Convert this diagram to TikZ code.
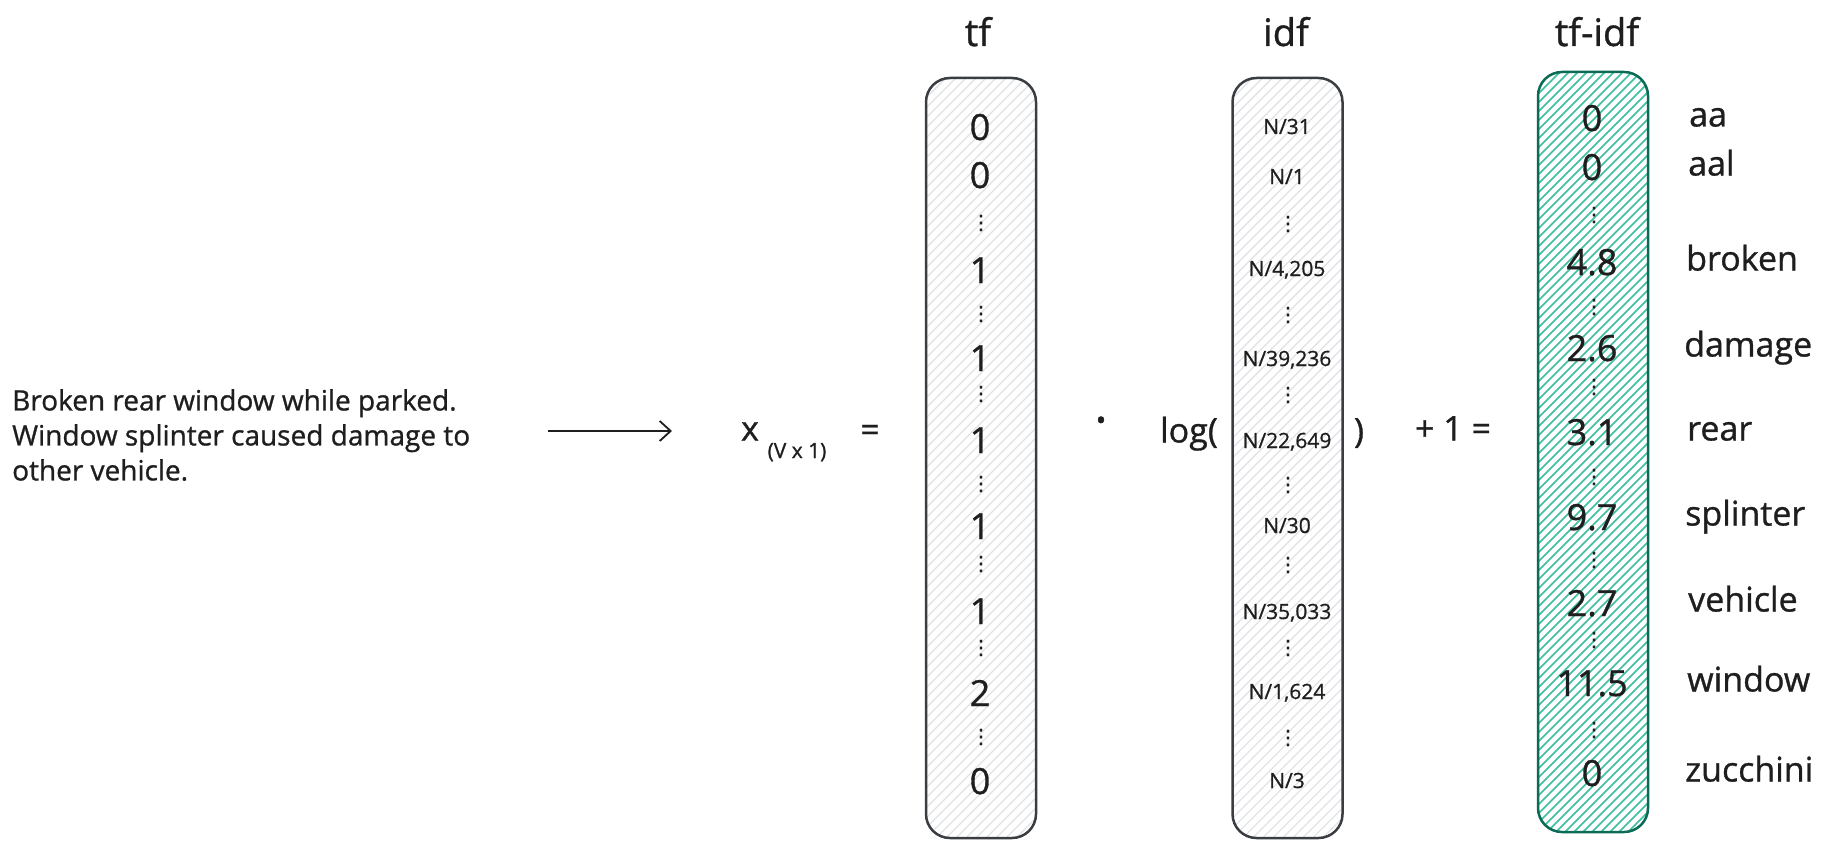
\documentclass[tikz,border=0pt]{standalone}
\usepackage{fontspec}
\setmainfont{Open Sans}[FakeBold=0.9]
\newfontfamily\dejavu{DejaVu Sans}[FakeBold=0.9]
\usetikzlibrary{arrows.meta}
\definecolor{ink}{HTML}{1E1E1E}
\definecolor{boxline}{HTML}{3A3E43}
\definecolor{hatchgray}{HTML}{DFE2E5}
\definecolor{tealline}{HTML}{0B6B57}
\definecolor{tealhatch}{HTML}{3DBE9F}
\tikzset{
  vec/.style={line width=2.5pt, rounded corners=24pt, minimum width=110pt,
    minimum height=760pt, inner sep=0pt, fill=white},
  grayhatch/.style={draw=boxline, path picture={
    \foreach \k in {-780,-770,...,130}
      \draw[hatchgray, line width=1.1pt]
        ([xshift=\k pt]path picture bounding box.south west) -- ++(800pt,800pt);}},
  tealhatchbox/.style={draw=tealline, path picture={
    \foreach \k in {-783,-774,...,130}
      \draw[tealhatch, line width=1.5pt]
        ([xshift=\k pt]path picture bounding box.south west) -- ++(800pt,800pt);}},
  big/.style={text=ink, font=\fontsize{34}{40}\selectfont, inner sep=0pt,
    text height=24pt, text depth=7pt},
  num/.style={text=ink, font=\fontsize{36}{42}\selectfont, inner sep=0pt,
    text height=26pt, text depth=0pt},
  title/.style={text=ink, font=\fontsize{38}{44}\selectfont, inner sep=0pt,
    text height=28pt, text depth=0pt},
  small/.style={text=ink, font=\fontsize{21}{25}\selectfont, inner sep=0pt,
    text height=15pt, text depth=3pt},
  lab/.style={big, anchor=west},
  vdot/.style={text=ink, font=\dejavu\fontsize{20}{24}\selectfont, inner sep=0pt},
  desc/.style={text=ink, font=\fontsize{28}{35}\selectfont, align=left,
    anchor=west, inner sep=0pt},
  arrowline/.style={draw=ink, line width=1.8pt,
    -{Straight Barb[length=11pt, width=20pt, line width=1.8pt]}},
}
\begin{document}
\begin{tikzpicture}[x=1pt, y=-1pt]
\useasboundingbox (0,0) rectangle (1827,848);

% description and arrow
\node[desc] (text) at (12,435) {Broken rear window while parked.\\Window splinter caused damage to\\other vehicle.};
\coordinate (a1) at (548,431);
\coordinate (a2) at (672,431);
\draw[arrowline] (a1) -- (a2);

% x_(V x 1) =
\node[big, text height=17pt, text depth=0pt] (xv) at (750,432) {x};
\node[small] (xsub) at (797,452) {(V x 1)};
\node[big, text height=17pt, text depth=0pt] (eq1) at (870,433) {=};

% titles
\node[title] (ttf) at (978,32) {tf};
\node[title] (tidf) at (1286,32) {idf};
\node[title] (ttfidf) at (1597,32) {tf-idf};

% boxes
\node[vec, grayhatch] (btf) at (981,458) {};
\node[vec, grayhatch] (bidf) at (1287.5,458) {};
\node[vec, tealhatchbox] (btfidf) at (1593,452) {};

% tf values
\foreach \v/\y in {0/127,0/175,1/270,1/358,1/440,1/526,1/611,2/693,0/781}
  \node[num] at (980,\y) {\v};
\foreach \y in {223,314,394,484,564,648,737}
  \node[vdot] at (981,\y) {⋮};

% operators
\node[text=ink, font=\fontsize{50}{50}\selectfont, inner sep=0pt] (dot) at (1101,427) {·};
\node[big] (log) at (1189,434) {log(};
\node[big] (rpar) at (1359,434) {)};
\node[big] (plus) at (1453,432) {+ 1 =};

% idf values
\node[small] at (1287,128) {N/31};
\node[small] at (1287,178) {N/1};
\node[small] at (1287,270) {N/4,205};
\node[small] at (1287,360) {N/39,236};
\node[small] at (1287,442) {N/22,649};
\node[small] at (1287,527) {N/30};
\node[small] at (1287,613) {N/35,033};
\node[small] at (1287,693) {N/1,624};
\node[small] at (1287,782) {N/3};
\foreach \y in {224,315,395,485,565,648,738}
  \node[vdot] at (1288,\y) {⋮};

% tf-idf values
\foreach \v/\y in {0/118,0/167,4.8/262,2.6/348,3.1/432,9.7/517,2.7/603,11.5/683,0/773}
  \node[num] at (1592,\y) {\v};
\foreach \y in {215,307,387,477,560,640,730}
  \node[vdot] at (1594,\y) {⋮};

% labels
\node[lab] (laa) at (1689,118) {aa};
\node[lab] (laal) at (1688,167) {aal};
\node[lab] (lbroken) at (1686,262) {broken};
\node[lab] (ldamage) at (1684,348) {damage};
\node[lab] (lrear) at (1687,432) {rear};
\node[lab] (lsplinter) at (1685,517) {splinter};
\node[lab] (lvehicle) at (1688,603) {vehicle};
\node[lab] (lwindow) at (1687,683) {window};
\node[lab] (lzucchini) at (1685,773) {zucchini};
\end{tikzpicture}
\end{document}
